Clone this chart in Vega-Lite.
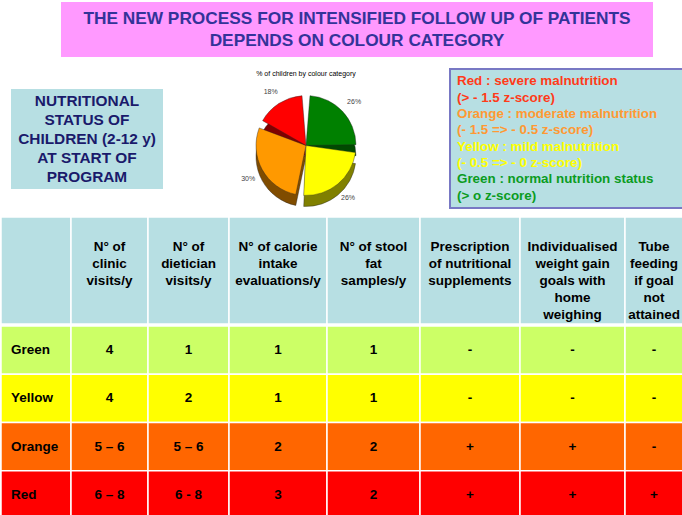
{
 "$schema": "https://vega.github.io/schema/vega-lite/v6.json",
 "padding": {"left": 0, "top": 2, "right": 0, "bottom": 0},
 "background": "white",
 "config": {"view": {"stroke": null}, "font": "Liberation Sans"},
 "datasets": {
  "title": [
   {"line": 1, "text": "THE NEW PROCESS FOR INTENSIFIED FOLLOW UP OF PATIENTS"},
   {"line": 2, "text": "DEPENDS ON COLOUR CATEGORY"}
  ],
  "pietitle": [{"text": "% of children by colour category"}],
  "status": [
   {"line": 1, "text": "NUTRITIONAL"},
   {"line": 2, "text": "STATUS OF"},
   {"line": 3, "text": "CHILDREN (2-12 y)"},
   {"line": 4, "text": "AT START OF"},
   {"line": 5, "text": "PROGRAM"}
  ],
  "legend": [
   {"line": 1, "cat": "Red", "text": "Red : severe malnutrition"},
   {"line": 2, "cat": "Red", "text": "(> - 1.5 z-score)"},
   {"line": 3, "cat": "Orange", "text": "Orange : moderate malnutrition"},
   {"line": 4, "cat": "Orange", "text": "(- 1.5 => - 0.5 z-score)"},
   {"line": 5, "cat": "Yellow", "text": "Yellow : mild malnutrition"},
   {"line": 6, "cat": "Yellow", "text": "(- 0.5 => - 0 z-score)"},
   {"line": 7, "cat": "Green", "text": "Green : normal nutrition status"},
   {"line": 8, "cat": "Green", "text": "(> o z-score)"}
  ],
  "pie": [
   {"cat": "Green", "ord": 1, "pct": 0.26},
   {"cat": "Yellow", "ord": 2, "pct": 0.26},
   {"cat": "Orange", "ord": 3, "pct": 0.30},
   {"cat": "Red", "ord": 4, "pct": 0.18}
  ],
  "headers": [
   {"col": "clinic", "label": "N° of\nclinic\nvisits/y"},
   {"col": "dietician", "label": "N° of\ndietician\nvisits/y"},
   {"col": "calorie", "label": "N° of calorie\nintake\nevaluations/y"},
   {"col": "stool", "label": "N° of stool\nfat\nsamples/y"},
   {"col": "prescription", "label": "Prescription\nof nutritional\nsupplements"},
   {"col": "goals", "label": "Individualised\nweight gain\ngoals with\nhome\nweighing"},
   {"col": "tube", "label": "Tube\nfeeding\nif goal\nnot\nattained"}
  ],
  "rows": [
   {"cat": "Green", "clinic": "4", "dietician": "1", "calorie": "1", "stool": "1", "prescription": "-", "goals": "-", "tube": "-"},
   {"cat": "Yellow", "clinic": "4", "dietician": "2", "calorie": "1", "stool": "1", "prescription": "-", "goals": "-", "tube": "-"},
   {"cat": "Orange", "clinic": "5 – 6", "dietician": "5 – 6", "calorie": "2", "stool": "2", "prescription": "+", "goals": "+", "tube": "-"},
   {"cat": "Red", "clinic": "6 – 8", "dietician": "6 - 8", "calorie": "3", "stool": "2", "prescription": "+", "goals": "+", "tube": "+"}
  ]
 },
 "spacing": 0,
 "resolve": {"scale": {"color": "independent"}},
 "vconcat": [
  {
   "spacing": 0,
   "bounds": "flush",
   "hconcat": [
    {"width": 60, "height": 66, "data": {"values": []}, "mark": "point"},
    {
     "width": 592, "height": 55,
     "view": {"fill": "#ff99ff", "stroke": null},
     "data": {"name": "title"},
     "mark": {"type": "text", "font": "Liberation Sans", "fontSize": 17.3, "fontWeight": "bold", "color": "#333399"},
     "encoding": {
      "y": {"field": "line", "type": "ordinal", "axis": null, "scale": {"type": "band", "paddingInner": 0, "paddingOuter": 0.25}},
      "text": {"field": "text"}
     }
    }
   ]
  },
  {
   "spacing": 0,
   "resolve": {"scale": {"color": "independent"}},
   "hconcat": [
    {"width": 10, "height": 147, "data": {"values": []}, "mark": "point"},
    {
     "spacing": 0,
     "bounds": "flush",
     "vconcat": [
      {"width": 152, "height": 20, "data": {"values": []}, "mark": "point"},
      {
       "width": 152, "height": 100,
       "view": {"fill": "#b7dfe3", "stroke": null},
       "data": {"name": "status"},
       "mark": {"type": "text", "font": "Liberation Sans", "fontSize": 15.4, "fontWeight": "bold", "color": "#1a1a6b"},
       "encoding": {
        "y": {"field": "line", "type": "ordinal", "axis": null, "scale": {"type": "band", "paddingInner": 0, "paddingOuter": 0.16}},
        "text": {"field": "text"}
       }
      }
     ]
    },
    {
     "spacing": 0,
     "bounds": "flush",
     "vconcat": [
      {
       "width": 286, "height": 10,
       "data": {"name": "pietitle"},
       "mark": {"type": "text", "fontSize": 7, "font": "Liberation Sans", "color": "black"},
       "encoding": {"text": {"field": "text"}}
      },
      {
       "width": 286, "height": 129,
       "data": {"name": "pie"},
       "encoding": {
        "theta": {"field": "pct", "type": "quantitative", "stack": true},
        "order": {"field": "ord", "type": "ordinal"}
       },
       "layer": [
        {
         "mark": {"type": "arc", "outerRadius": 50, "padAngle": 0.16, "yOffset": 13, "stroke": "#222", "strokeWidth": 0.4},
         "encoding": {"color": {"field": "cat", "type": "nominal", "legend": null, "scale": {"domain": ["Green", "Yellow", "Orange", "Red"], "range": ["#004a00", "#808000", "#804c00", "#800000"]}}}
        },
        {
         "mark": {"type": "arc", "outerRadius": 50, "padAngle": 0.16, "yOffset": 2, "stroke": "#222", "strokeWidth": 0.4},
         "encoding": {"color": {"field": "cat", "type": "nominal", "legend": null, "scale": {"domain": ["Green", "Yellow", "Orange", "Red"], "range": ["#008000", "#ffff00", "#ff9900", "#ff0000"]}}}
        },
        {
         "mark": {"type": "text", "radius": 66, "yOffset": 4, "fontSize": 7, "color": "#444", "font": "Liberation Sans"},
         "encoding": {"text": {"field": "pct", "type": "quantitative", "format": ".0%"}}
        }
       ],
       "resolve": {"scale": {"color": "independent"}}
      }
     ]
    },
    {
     "width": 234, "height": 139,
     "view": {"fill": "#b7dfe3", "stroke": "#7878c4", "strokeWidth": 2},
     "data": {"name": "legend"},
     "mark": {"type": "text", "font": "Liberation Sans", "fontSize": 13.4, "fontWeight": "bold", "align": "left"},
     "encoding": {
      "x": {"datum": "legend", "type": "nominal", "axis": null, "bandPosition": 0, "scale": {"type": "band", "paddingInner": 0, "paddingOuter": 0.0318}},
      "y": {"field": "line", "type": "ordinal", "axis": null, "scale": {"type": "band", "paddingInner": 0, "paddingOuter": 0.24}},
      "text": {"field": "text"},
      "color": {"field": "cat", "type": "nominal", "legend": null, "scale": {"domain": ["Red", "Orange", "Yellow", "Green"], "range": ["#ff3b1a", "#ff9933", "#ffff00", "#0b9c1f"]}}
     }
    }
   ]
  },
  {
   "spacing": 0,
   "bounds": "flush",
   "hconcat": [
    {"width": 70, "height": 107, "view": {"fill": "#b7dfe3", "stroke": "white", "strokeWidth": 1.5}, "data": {"values": []}, "mark": "point"},
    {"width": 77, "height": 107, "view": {"fill": "#b7dfe3", "stroke": "white", "strokeWidth": 1.5}, "data": {"name": "headers"}, "transform": [{"filter": "datum.col === 'clinic'"}],
     "mark": {"type": "text", "lineBreak": "\n", "lineHeight": 17, "font": "Liberation Sans", "fontSize": 13.5, "fontWeight": "bold", "baseline": "top", "color": "black"},
     "encoding": {"y": {"field": "col", "type": "nominal", "axis": null, "bandPosition": 0, "scale": {"type": "band", "paddingInner": 0, "paddingOuter": 0.377}}, "text": {"field": "label"}}},
    {"width": 81, "height": 107, "view": {"fill": "#b7dfe3", "stroke": "white", "strokeWidth": 1.5}, "data": {"name": "headers"}, "transform": [{"filter": "datum.col === 'dietician'"}],
     "mark": {"type": "text", "lineBreak": "\n", "lineHeight": 17, "font": "Liberation Sans", "fontSize": 13.5, "fontWeight": "bold", "baseline": "top", "color": "black"},
     "encoding": {"y": {"field": "col", "type": "nominal", "axis": null, "bandPosition": 0, "scale": {"type": "band", "paddingInner": 0, "paddingOuter": 0.377}}, "text": {"field": "label"}}},
    {"width": 98, "height": 107, "view": {"fill": "#b7dfe3", "stroke": "white", "strokeWidth": 1.5}, "data": {"name": "headers"}, "transform": [{"filter": "datum.col === 'calorie'"}],
     "mark": {"type": "text", "lineBreak": "\n", "lineHeight": 17, "font": "Liberation Sans", "fontSize": 13.5, "fontWeight": "bold", "baseline": "top", "color": "black"},
     "encoding": {"y": {"field": "col", "type": "nominal", "axis": null, "bandPosition": 0, "scale": {"type": "band", "paddingInner": 0, "paddingOuter": 0.377}}, "text": {"field": "label"}}},
    {"width": 93, "height": 107, "view": {"fill": "#b7dfe3", "stroke": "white", "strokeWidth": 1.5}, "data": {"name": "headers"}, "transform": [{"filter": "datum.col === 'stool'"}],
     "mark": {"type": "text", "lineBreak": "\n", "lineHeight": 17, "font": "Liberation Sans", "fontSize": 13.5, "fontWeight": "bold", "baseline": "top", "color": "black"},
     "encoding": {"y": {"field": "col", "type": "nominal", "axis": null, "bandPosition": 0, "scale": {"type": "band", "paddingInner": 0, "paddingOuter": 0.377}}, "text": {"field": "label"}}},
    {"width": 100, "height": 107, "view": {"fill": "#b7dfe3", "stroke": "white", "strokeWidth": 1.5}, "data": {"name": "headers"}, "transform": [{"filter": "datum.col === 'prescription'"}],
     "mark": {"type": "text", "lineBreak": "\n", "lineHeight": 17, "font": "Liberation Sans", "fontSize": 13.5, "fontWeight": "bold", "baseline": "top", "color": "black"},
     "encoding": {"y": {"field": "col", "type": "nominal", "axis": null, "bandPosition": 0, "scale": {"type": "band", "paddingInner": 0, "paddingOuter": 0.377}}, "text": {"field": "label"}}},
    {"width": 105, "height": 107, "view": {"fill": "#b7dfe3", "stroke": "white", "strokeWidth": 1.5}, "data": {"name": "headers"}, "transform": [{"filter": "datum.col === 'goals'"}],
     "mark": {"type": "text", "lineBreak": "\n", "lineHeight": 17, "font": "Liberation Sans", "fontSize": 13.5, "fontWeight": "bold", "baseline": "top", "color": "black"},
     "encoding": {"y": {"field": "col", "type": "nominal", "axis": null, "bandPosition": 0, "scale": {"type": "band", "paddingInner": 0, "paddingOuter": 0.377}}, "text": {"field": "label"}}},
    {"width": 58, "height": 107, "view": {"fill": "#b7dfe3", "stroke": "white", "strokeWidth": 1.5}, "data": {"name": "headers"}, "transform": [{"filter": "datum.col === 'tube'"}],
     "mark": {"type": "text", "lineBreak": "\n", "lineHeight": 17, "font": "Liberation Sans", "fontSize": 13.5, "fontWeight": "bold", "baseline": "top", "color": "black"},
     "encoding": {"y": {"field": "col", "type": "nominal", "axis": null, "bandPosition": 0, "scale": {"type": "band", "paddingInner": 0, "paddingOuter": 0.377}}, "text": {"field": "label"}}}
   ]
  },
  {
   "spacing": 0,
   "bounds": "flush",
   "resolve": {"scale": {"color": "independent"}},
   "hconcat": [
    {"width": 70, "height": 193, "data": {"name": "rows"},
     "encoding": {"y": {"field": "cat", "type": "nominal", "axis": null, "sort": ["Green", "Yellow", "Orange", "Red"], "scale": {"paddingInner": 0, "paddingOuter": 0}}},
     "layer": [
      {"mark": {"type": "rect", "stroke": "white", "strokeWidth": 1.5}, "encoding": {"color": {"field": "cat", "type": "nominal", "legend": null, "scale": {"domain": ["Green", "Yellow", "Orange", "Red"], "range": ["#ccff66", "#ffff00", "#ff6600", "#ff0000"]}}}},
      {"mark": {"type": "text", "font": "Liberation Sans", "fontSize": 13.5, "fontWeight": "bold", "color": "black", "align": "left"},
       "encoding": {"text": {"field": "cat"}, "x": {"datum": "label", "type": "nominal", "axis": null, "bandPosition": 0, "scale": {"type": "band", "paddingInner": 0, "paddingOuter": 0.2}}}}
     ]},
    {"width": 77, "height": 193, "data": {"name": "rows"},
     "encoding": {"y": {"field": "cat", "type": "nominal", "axis": null, "sort": ["Green", "Yellow", "Orange", "Red"], "scale": {"paddingInner": 0, "paddingOuter": 0}}},
     "layer": [
      {"mark": {"type": "rect", "stroke": "white", "strokeWidth": 1.5}, "encoding": {"color": {"field": "cat", "type": "nominal", "legend": null, "scale": {"domain": ["Green", "Yellow", "Orange", "Red"], "range": ["#ccff66", "#ffff00", "#ff6600", "#ff0000"]}}}},
      {"mark": {"type": "text", "font": "Liberation Sans", "fontSize": 13.5, "fontWeight": "bold", "color": "black"}, "encoding": {"text": {"field": "clinic"}}}
     ]},
    {"width": 81, "height": 193, "data": {"name": "rows"},
     "encoding": {"y": {"field": "cat", "type": "nominal", "axis": null, "sort": ["Green", "Yellow", "Orange", "Red"], "scale": {"paddingInner": 0, "paddingOuter": 0}}},
     "layer": [
      {"mark": {"type": "rect", "stroke": "white", "strokeWidth": 1.5}, "encoding": {"color": {"field": "cat", "type": "nominal", "legend": null, "scale": {"domain": ["Green", "Yellow", "Orange", "Red"], "range": ["#ccff66", "#ffff00", "#ff6600", "#ff0000"]}}}},
      {"mark": {"type": "text", "font": "Liberation Sans", "fontSize": 13.5, "fontWeight": "bold", "color": "black"}, "encoding": {"text": {"field": "dietician"}}}
     ]},
    {"width": 98, "height": 193, "data": {"name": "rows"},
     "encoding": {"y": {"field": "cat", "type": "nominal", "axis": null, "sort": ["Green", "Yellow", "Orange", "Red"], "scale": {"paddingInner": 0, "paddingOuter": 0}}},
     "layer": [
      {"mark": {"type": "rect", "stroke": "white", "strokeWidth": 1.5}, "encoding": {"color": {"field": "cat", "type": "nominal", "legend": null, "scale": {"domain": ["Green", "Yellow", "Orange", "Red"], "range": ["#ccff66", "#ffff00", "#ff6600", "#ff0000"]}}}},
      {"mark": {"type": "text", "font": "Liberation Sans", "fontSize": 13.5, "fontWeight": "bold", "color": "black"}, "encoding": {"text": {"field": "calorie"}}}
     ]},
    {"width": 93, "height": 193, "data": {"name": "rows"},
     "encoding": {"y": {"field": "cat", "type": "nominal", "axis": null, "sort": ["Green", "Yellow", "Orange", "Red"], "scale": {"paddingInner": 0, "paddingOuter": 0}}},
     "layer": [
      {"mark": {"type": "rect", "stroke": "white", "strokeWidth": 1.5}, "encoding": {"color": {"field": "cat", "type": "nominal", "legend": null, "scale": {"domain": ["Green", "Yellow", "Orange", "Red"], "range": ["#ccff66", "#ffff00", "#ff6600", "#ff0000"]}}}},
      {"mark": {"type": "text", "font": "Liberation Sans", "fontSize": 13.5, "fontWeight": "bold", "color": "black"}, "encoding": {"text": {"field": "stool"}}}
     ]},
    {"width": 100, "height": 193, "data": {"name": "rows"},
     "encoding": {"y": {"field": "cat", "type": "nominal", "axis": null, "sort": ["Green", "Yellow", "Orange", "Red"], "scale": {"paddingInner": 0, "paddingOuter": 0}}},
     "layer": [
      {"mark": {"type": "rect", "stroke": "white", "strokeWidth": 1.5}, "encoding": {"color": {"field": "cat", "type": "nominal", "legend": null, "scale": {"domain": ["Green", "Yellow", "Orange", "Red"], "range": ["#ccff66", "#ffff00", "#ff6600", "#ff0000"]}}}},
      {"mark": {"type": "text", "font": "Liberation Sans", "fontSize": 13.5, "fontWeight": "bold", "color": "black"}, "encoding": {"text": {"field": "prescription"}}}
     ]},
    {"width": 105, "height": 193, "data": {"name": "rows"},
     "encoding": {"y": {"field": "cat", "type": "nominal", "axis": null, "sort": ["Green", "Yellow", "Orange", "Red"], "scale": {"paddingInner": 0, "paddingOuter": 0}}},
     "layer": [
      {"mark": {"type": "rect", "stroke": "white", "strokeWidth": 1.5}, "encoding": {"color": {"field": "cat", "type": "nominal", "legend": null, "scale": {"domain": ["Green", "Yellow", "Orange", "Red"], "range": ["#ccff66", "#ffff00", "#ff6600", "#ff0000"]}}}},
      {"mark": {"type": "text", "font": "Liberation Sans", "fontSize": 13.5, "fontWeight": "bold", "color": "black"}, "encoding": {"text": {"field": "goals"}}}
     ]},
    {"width": 58, "height": 193, "data": {"name": "rows"},
     "encoding": {"y": {"field": "cat", "type": "nominal", "axis": null, "sort": ["Green", "Yellow", "Orange", "Red"], "scale": {"paddingInner": 0, "paddingOuter": 0}}},
     "layer": [
      {"mark": {"type": "rect", "stroke": "white", "strokeWidth": 1.5}, "encoding": {"color": {"field": "cat", "type": "nominal", "legend": null, "scale": {"domain": ["Green", "Yellow", "Orange", "Red"], "range": ["#ccff66", "#ffff00", "#ff6600", "#ff0000"]}}}},
      {"mark": {"type": "text", "font": "Liberation Sans", "fontSize": 13.5, "fontWeight": "bold", "color": "black"}, "encoding": {"text": {"field": "tube"}}}
     ]}
   ]
  }
 ]
}
